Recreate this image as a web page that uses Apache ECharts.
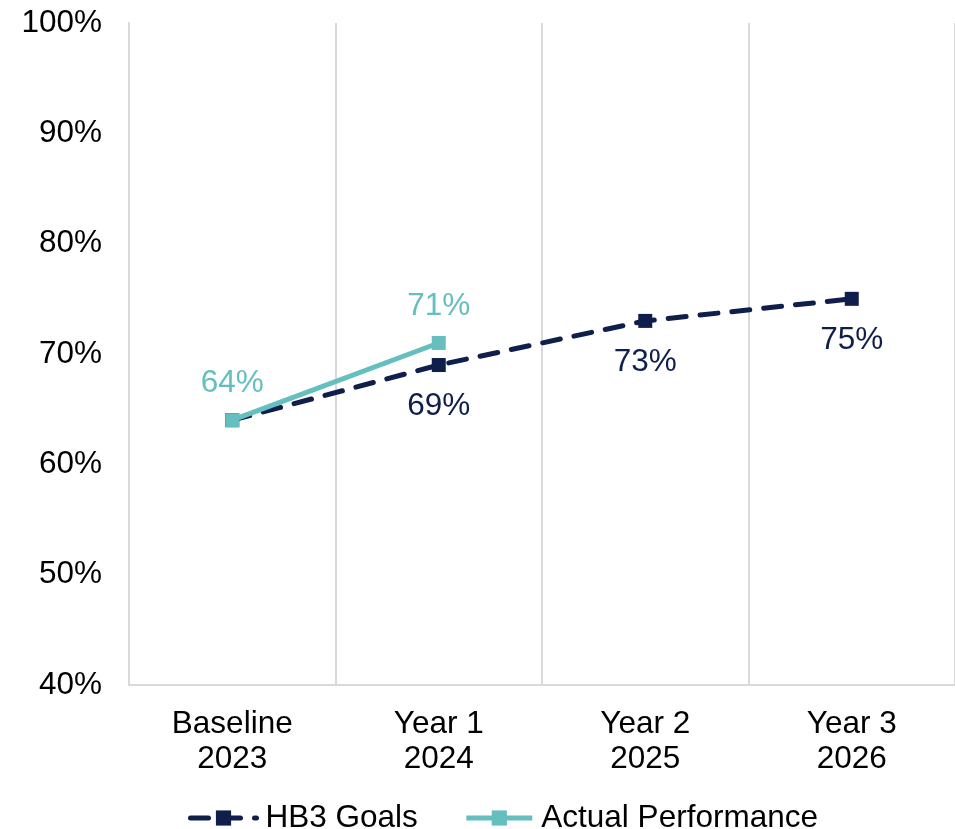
<!DOCTYPE html>
<html>
<head>
<meta charset="utf-8">
<script src="https://cdn.jsdelivr.net/npm/echarts@6/dist/echarts.min.js"></script>
<style>
  html, body { margin: 0; padding: 0; background: #fff; }
  #lineChart { width: 955px; height: 829px; }
</style>
</head>
<body>
<div id="lineChart"></div>
<script>
var categories = ['Baseline\n2023', 'Year 1\n2024', 'Year 2\n2025', 'Year 3\n2026'];
var goalValues = [64, 69, 73, 75];
var actualValues = [64, 71, null, null];
var yTicks = { min: 40, max: 100, step: 10 };

var navy = '#0f1e4b';
var teal = '#65bfbf';
var fontName = '"Liberation Sans", Arial, sans-serif';
var fs = 31.5;

var myChart = echarts.init(document.getElementById('lineChart'));

// baseline goal label is hidden behind the actual one in the original
var goalData = goalValues.map(function (v, i) {
    if (i === 0) return { value: v, label: { show: false } };
    return v;
});

var option = {
    animation: false,
    textStyle: { fontFamily: fontName },
    grid: {
        left: 129,
        right: -5,
        top: 23,
        bottom: 144,
        containLabel: false
    },
    legend: {
        left: 183,
        bottom: -10,
        itemWidth: 66,
        itemHeight: 19,
        itemGap: 46,
        lineStyle: { width: 5 },
        textStyle: { fontSize: fs, color: '#000', fontFamily: fontName, padding: [0, 0, 0, 4] },
        data: ['HB3 Goals', 'Actual Performance']
    },
    xAxis: {
        type: 'category',
        data: categories,
        axisLine: { lineStyle: { color: '#d9d9d9', width: 2 } },
        axisTick: { show: false },
        splitLine: { show: true, lineStyle: { color: '#d9d9d9', width: 2 } },
        axisLabel: {
            color: '#000',
            fontSize: fs,
            lineHeight: 35,
            margin: 22,
            fontFamily: fontName
        }
    },
    yAxis: {
        type: 'value',
        min: yTicks.min,
        max: yTicks.max,
        interval: yTicks.step,
        axisLine: { show: true, lineStyle: { color: '#d9d9d9', width: 2 } },
        axisTick: { show: false },
        splitLine: { show: false },
        axisLabel: {
            color: '#000',
            fontSize: fs,
            margin: 27,
            fontFamily: fontName,
            formatter: '{value}%'
        }
    },
    series: [
        {
            name: 'HB3 Goals',
            type: 'line',
            data: goalData,
            symbol: 'rect',
            symbolSize: 14,
            itemStyle: { color: navy },
            lineStyle: { color: navy, width: 5, type: [18, 14], cap: 'round' },
            label: {
                show: true,
                position: 'bottom',
                distance: 18,
                color: navy,
                fontSize: fs,
                fontFamily: fontName,
                formatter: '{c}%'
            },
            z: 2
        },
        {
            name: 'Actual Performance',
            type: 'line',
            data: actualValues,
            symbol: 'rect',
            symbolSize: 14,
            itemStyle: { color: teal },
            lineStyle: { color: teal, width: 5 },
            label: {
                show: true,
                position: 'top',
                distance: 14,
                color: teal,
                fontSize: fs,
                fontFamily: fontName,
                formatter: '{c}%'
            },
            z: 3
        }
    ]
};

myChart.setOption(option);
</script>
</body>
</html>
